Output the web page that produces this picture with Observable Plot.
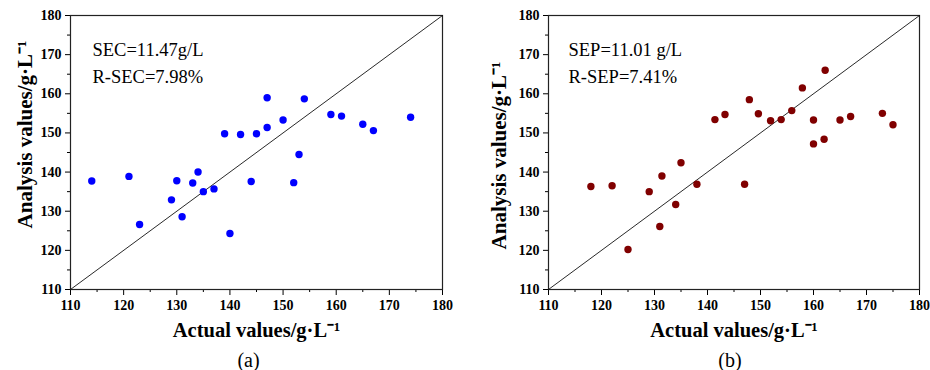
<!DOCTYPE html>
<html><head><meta charset="utf-8">
<script src="https://cdn.jsdelivr.net/npm/d3@7"></script>
<script src="https://cdn.jsdelivr.net/npm/@observablehq/plot@0.6"></script>
<style>
body{margin:0;background:#fff;}
#wrap{display:flex;width:930px;height:370px;overflow:hidden;}
svg text{font-family:"Liberation Serif","Times New Roman",serif;}
svg g[aria-label$="tick label"] text{font-weight:bold;}
</style></head><body><div id="wrap"></div>
<script>
// Calibration set (a)
const calActual    = [114, 121, 123, 129, 130, 131, 133, 134, 135, 137, 140, 144, 152, 153, 139, 142, 145, 147, 147, 150, 154, 159, 161, 165, 167, 174];
const calPredicted = [137.7, 138.9, 126.6, 132.9, 137.8, 128.6, 137.2, 140.0, 135.0, 135.7, 124.3, 137.6, 137.3, 144.5, 149.8, 149.6, 149.8, 151.4, 159.0, 153.3, 158.7, 154.7, 154.3, 152.2, 150.6, 154.0];
// Prediction set (b)
const preActual    = [118, 122, 125, 129, 131, 131.4, 134, 135, 138, 141.4, 143.3, 147.9, 149.6, 151.9, 153.9, 155.9, 157.9, 160, 160, 162, 162.2, 165, 167, 173, 175, 147];
const prePredicted = [136.3, 136.5, 120.2, 135.0, 126.1, 139.0, 131.7, 142.4, 136.9, 153.4, 154.7, 158.5, 154.9, 153.1, 153.4, 155.7, 161.5, 153.3, 147.2, 148.4, 166.0, 153.3, 154.2, 155.0, 152.1, 136.9];
const majorTicks = [110, 120, 130, 140, 150, 160, 170, 180];
const minorTicks = [115, 125, 135, 145, 155, 165, 175];
const identityLine = [110, 180];
const statsA = ["SEC=11.47g/L", "R-SEC=7.98%"];
const statsB = ["SEP=11.01 g/L", "R-SEP=7.41%"];
const xTitle = "Actual values/g·L⁻¹";
const yTitle = "Analysis values/g·L⁻¹";
const captions = ["(a)", "(b)"];
const FF = "Liberation Serif";

function panel({actual, predicted, color, stats, caption, marginLeft, marginRight, statDx, yDx, yDy, capDx}) {
  const data = actual.map((a, i) => ({actual: a, predicted: predicted[i]}));
  return Plot.plot({
    width: 465, height: 370,
    marginLeft, marginRight, marginTop: 15, marginBottom: 81,
    x: {domain: [110, 180]},
    y: {domain: [110, 180]},
    style: {fontFamily: FF, fontSize: "14px", color: "black", background: "white", overflow: "visible"},
    marks: [
      Plot.axisX(majorTicks, {tickSize: 6, tickPadding: 5, fontWeight: "bold", fontFamily: FF, fontSize: 14, label: null, tickFormat: d => String(d)}),
      Plot.axisX(minorTicks, {tickSize: 3, tickFormat: () => "", label: null}),
      Plot.axisY(majorTicks, {tickSize: 5, tickPadding: 4, fontWeight: "bold", fontFamily: FF, fontSize: 14, label: null, tickFormat: d => String(d)}),
      Plot.axisY(minorTicks, {tickSize: 3, tickFormat: () => "", label: null}),
      Plot.frame({stroke: "#222", strokeWidth: 1.2}),
      Plot.line(identityLine, {x: d => d, y: d => d, stroke: "#111", strokeWidth: 0.9}),
      Plot.dot(data, {x: "actual", y: "predicted", r: 3.7, fill: color, stroke: null}),
      Plot.text([stats.join("\n")], {frameAnchor: "top-left", textAnchor: "start", lineAnchor: "top", dx: statDx, dy: 21, fontSize: 18.5, fontFamily: FF, lineHeight: 1.46}),
      Plot.text([xTitle], {frameAnchor: "bottom", textAnchor: "middle", lineAnchor: "middle", dy: 41, fontSize: 20.5, fontFamily: FF, fontWeight: "bold"}),
      Plot.text([yTitle], {frameAnchor: "left", textAnchor: "middle", lineAnchor: "middle", rotate: -90, dx: yDx, dy: yDy, fontSize: 21, fontFamily: FF, fontWeight: "bold"}),
      Plot.text([caption], {frameAnchor: "bottom", textAnchor: "middle", lineAnchor: "middle", dx: capDx, dy: 71, fontSize: 20, fontFamily: FF})
    ]
  });
}

const wrap = document.getElementById("wrap");
wrap.appendChild(panel({actual: calActual, predicted: calPredicted, color: "#0000ff", stats: statsA, caption: captions[0], marginLeft: 70, marginRight: 23, statDx: 22, yDx: -45, yDy: -18, capDx: -8}));
wrap.appendChild(panel({actual: preActual, predicted: prePredicted, color: "#800000", stats: statsB, caption: captions[1], marginLeft: 83, marginRight: 11, statDx: 20, yDx: -49, yDy: 3, capDx: -4}));
</script>
</body></html>
